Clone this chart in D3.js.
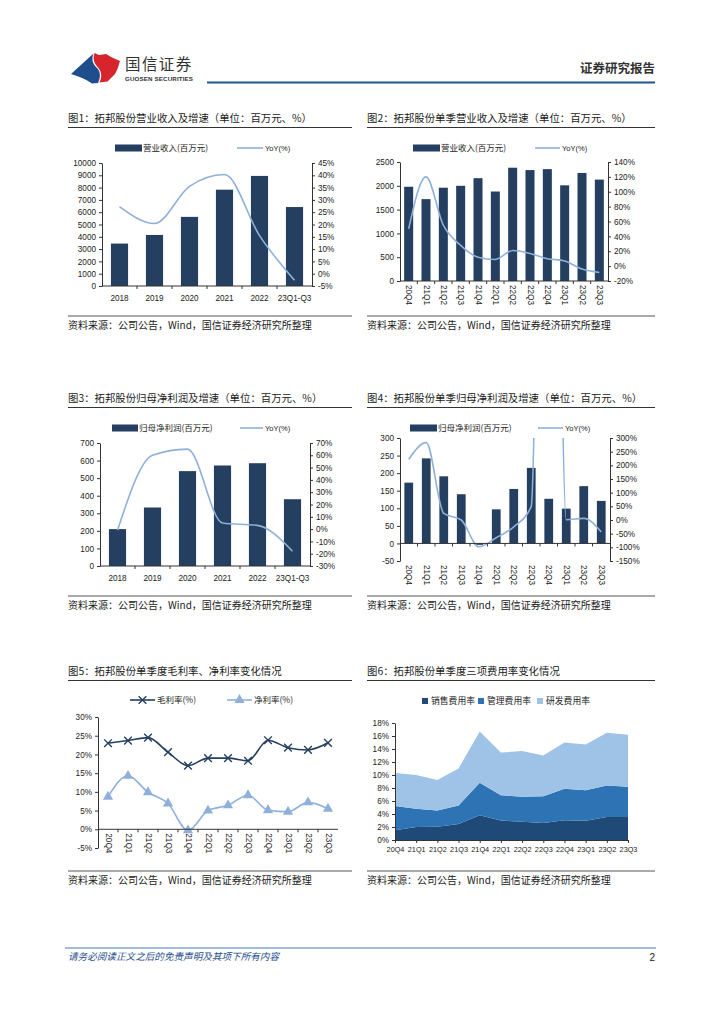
<!DOCTYPE html>
<html><head><meta charset="utf-8">
<script src="https://cdn.jsdelivr.net/npm/d3@7/dist/d3.min.js"></script>
<style>
body{margin:0;background:#fff}
svg{display:block}
text{font-family:"Liberation Sans",Arial,sans-serif;fill:#222}
.cn{font-family:"Noto Sans CJK SC","Noto Sans",sans-serif}
</style>
</head><body>
<svg id="c" width="724" height="1024"></svg>
<script>
// ---------- data ----------
const years = ["2018","2019","2020","2021","2022","23Q1-Q3"];
const quarters = ["20Q4","21Q1","21Q2","21Q3","21Q4","22Q1","22Q2","22Q3","22Q4","23Q1","23Q2","23Q3"];

const revenueAnnual = [3450,4150,5620,7830,8950,6420];
const revenueAnnualYoY = [27.3,20.4,35.5,40.3,15.5,-2.7];

const revenueQuarter = [1980,1720,1960,2000,2160,1880,2380,2330,2350,2010,2270,2130];
const revenueQuarterYoY = [50,120,55,28,12,9,21,17,10,7,-4,-8.5];

const profitAnnual = [210,333,540,572,585,380];
const profitAnnualYoY = [-1,60,65,5,3,-18];

const profitQuarter = [173,242,191,140,-4,97,155,215,127,99,163,121];
const profitQuarterYoY = [222,283,24,0,-98,-65,-25,50,3500,1,6,-44];

const grossMargin = [23.0,23.7,24.5,20.6,17.0,19.0,19.0,18.3,23.8,21.8,21.2,23.1];
const netMargin = [8.7,14.3,9.9,6.9,-0.3,5.0,6.4,9.1,5.1,4.7,7.2,5.5];

const salesRate = [1.5,2.0,2.05,2.45,3.8,3.0,2.8,2.6,3.05,2.95,3.55,3.55];
const adminRate = [3.75,2.8,2.5,2.85,5.0,3.9,3.85,4.15,4.85,4.7,4.85,4.65];
const rdRate = [5.05,5.2,4.7,5.7,7.9,6.55,7.05,6.25,7.1,7.05,8.1,8.0];

const leftTicks1 = [0,1000,2000,3000,4000,5000,6000,7000,8000,9000,10000];
const rightTicks1 = [-5,0,5,10,15,20,25,30,35,40,45];
const leftTicks2 = [0,500,1000,1500,2000,2500];
const rightTicks2 = [-20,0,20,40,60,80,100,120,140];
const leftTicks3 = [0,100,200,300,400,500,600,700];
const rightTicks3 = [-30,-20,-10,0,10,20,30,40,50,60,70];
const leftTicks4 = [-50,0,50,100,150,200,250,300];
const rightTicks4 = [-150,-100,-50,0,50,100,150,200,250,300];
const marginTicks = [-5,0,5,10,15,20,25,30];
const expenseTicks = [0,2,4,6,8,10,12,14,16,18];

// ---------- style ----------
const NAVY = "#243f60";
const LBLUE = "#8eb0da";
const svg = d3.select("#c");

function txt(g, x, y, s, o = {}) {
  const t = g.append("text").attr("x", x).attr("y", y).text(s)
    .attr("font-size", o.size || 8.5);
  if (o.cn) t.attr("class", "cn");
  if (o.anchor) t.attr("text-anchor", o.anchor);
  if (o.fill) t.style("fill", o.fill);
  if (o.weight) t.attr("font-weight", o.weight);
  if (o.italic) t.attr("font-style", "italic");
  return t;
}
function hline(x1, x2, y, color, w) {
  svg.append("line").attr("x1", x1).attr("x2", x2).attr("y1", y).attr("y2", y)
    .attr("stroke", color).attr("stroke-width", w);
}
function styleAxis(a, size) {
  a.attr("font-family", null).attr("font-size", null);
  a.selectAll("text").attr("font-size", size || 8.2).style("fill", "#222");
  a.selectAll("path,line").attr("stroke", "#333");
}

// ---------- header ----------
const logo = svg.append("g");
logo.append("path").attr("d", "M71,74 L93.5,53.5 C91,60 93,64 97,68 C101,72 100.5,78 98,83 L92,83.5 C85,78.5 78,76.5 71,74 Z").attr("fill", "#1f4e8c");
logo.append("path").attr("d", "M94.5,53 L99,55 L106,54 L112,57.5 L120,61 L117.5,69 L115,74 L107.5,81.5 L99.5,82.5 C102,77 102,72 98,67.5 C94,63 92.5,59 94.5,53 Z").attr("fill", "#d7252e");
txt(svg, 125, 70, "国信证券", { cn: true, size: 15.5, fill: "#333" }).attr("letter-spacing", 1.4);
txt(svg, 125, 81, "GUOSEN SECURITIES", { size: 6.2, weight: "bold", fill: "#333" }).attr("textLength", 68);
hline(207, 655, 82.5, "#1f5591", 2);
txt(svg, 655, 73, "证券研究报告", { cn: true, size: 12.5, fill: "#333", anchor: "end", weight: "bold" });

// ---------- footer ----------
hline(65, 656, 948, "#4a78b0", 1);
txt(svg, 68, 960, "请务必阅读正文之后的免责声明及其项下所有内容", { cn: true, size: 9.6, fill: "#1f4e8c", italic: true });
txt(svg, 655, 961, "2", { size: 10, anchor: "end", fill: "#222" });

// ---------- panel frame ----------
function frame(x0, x1, titleY, srcY, title) {
  txt(svg, x0, titleY + 4, title, { cn: true, size: 10.4, fill: "#1a1a1a" });
  hline(x0, x1, titleY + 9.5, "#333", 1.2);
  hline(x0, x1, srcY, "#555", 1);
  txt(svg, x0, srcY + 13, "资料来源：公司公告，Wind，国信证券经济研究所整理", { cn: true, size: 10, fill: "#222" });
}

// ---------- dual-axis bar + line chart ----------
function dual(c) {
  const g = svg.append("g");
  const x = d3.scaleBand().domain(c.cats).range([c.x0, c.x1]).paddingInner(c.pad).paddingOuter(c.pad / 2);
  const yl = d3.scaleLinear().domain(c.ld).range([c.y1, c.y0]);
  const yr = d3.scaleLinear().domain(c.rd).range([c.y1, c.y0]);

  g.selectAll("rect.bar").data(c.bars).join("rect").attr("class", "bar")
    .attr("x", (d, i) => x(c.cats[i])).attr("width", x.bandwidth())
    .attr("y", d => yl(Math.max(0, d)))
    .attr("height", d => Math.abs(yl(d) - yl(0)))
    .attr("fill", NAVY);

  const y0 = yl(0);
  hline(c.x0, c.x1, y0, "#333", 1);
  const bounds = c.cats.map(k => x(k) - x.step() * x.paddingInner() / 2).slice(1);
  g.selectAll("line.xt").data(bounds).join("line").attr("class", "xt")
    .attr("x1", d => d).attr("x2", d => d).attr("y1", y0).attr("y2", y0 + 3)
    .attr("stroke", "#333");

  const clipId = "clip" + c.id;
  svg.append("clipPath").attr("id", clipId).append("rect")
    .attr("x", c.x0 - 5).attr("y", c.y0).attr("width", c.x1 - c.x0 + 10).attr("height", c.y1 - c.y0);
  const line = d3.line().x((d, i) => x(c.cats[i]) + x.bandwidth() / 2).y(d => yr(d)).curve(d3.curveMonotoneX);
  g.append("path").datum(c.line).attr("d", line).attr("fill", "none")
    .attr("stroke", LBLUE).attr("stroke-width", 1.6).attr("clip-path", `url(#${clipId})`);

  const la = g.append("g").attr("transform", `translate(${c.x0},0)`)
    .call(d3.axisLeft(yl).tickValues(c.lt).tickSize(3).tickSizeOuter(0).tickPadding(3).tickFormat(d => String(d)));
  const ra = g.append("g").attr("transform", `translate(${c.x1},0)`)
    .call(d3.axisRight(yr).tickValues(c.rt).tickSize(3).tickSizeOuter(0).tickPadding(3).tickFormat(d => d + "%"));
  styleAxis(la); styleAxis(ra);

  if (c.rotate) {
    g.selectAll("text.xl").data(c.cats).join("text").attr("class", "xl")
      .attr("transform", d => `translate(${x(d) + x.bandwidth() / 2},${c.labelY}) rotate(90)`)
      .attr("dominant-baseline", "central").attr("font-size", 8.2).text(d => d);
  } else {
    g.selectAll("text.xl").data(c.cats).join("text").attr("class", "xl")
      .attr("x", d => x(d) + x.bandwidth() / 2).attr("y", c.labelY)
      .attr("text-anchor", "middle").attr("font-size", 8.2).text(d => d);
  }

  const L = c.leg;
  g.append("rect").attr("x", L.r0).attr("y", L.y - 3.5).attr("width", L.r1 - L.r0).attr("height", 7).attr("fill", NAVY);
  txt(g, L.r1 + 1, L.y + 3, L.barLabel, { cn: true, size: 8.5 });
  g.append("line").attr("x1", L.l0).attr("x2", L.l1).attr("y1", L.y).attr("y2", L.y).attr("stroke", LBLUE).attr("stroke-width", 1.6);
  txt(g, L.l1 + 2, L.y + 3, "YoY(%)", { size: 7.5 });
}

frame(68, 352, 118, 316, "图1：拓邦股份营业收入及增速（单位：百万元、%）");
dual({ id: 1, cats: years, bars: revenueAnnual, line: revenueAnnualYoY, x0: 102, x1: 312, y0: 163, y1: 286,
  ld: [0, 10000], rd: [-5, 45], lt: leftTicks1, rt: rightTicks1, pad: 0.51, labelY: 301, rotate: false,
  leg: { y: 148, r0: 115, r1: 142, l0: 237, l1: 263, barLabel: "营业收入(百万元)" } });

frame(367, 655, 118, 316, "图2：拓邦股份单季营业收入及增速（单位：百万元、%）");
dual({ id: 2, cats: quarters, bars: revenueQuarter, line: revenueQuarterYoY, x0: 400, x1: 608, y0: 162, y1: 281,
  ld: [0, 2500], rd: [-20, 140], lt: leftTicks2, rt: rightTicks2, pad: 0.48, labelY: 285, rotate: true,
  leg: { y: 148, r0: 413, r1: 440, l0: 535, l1: 560, barLabel: "营业收入(百万元)" } });

frame(68, 352, 398, 596, "图3：拓邦股份归母净利润及增速（单位：百万元、%）");
dual({ id: 3, cats: years, bars: profitAnnual, line: profitAnnualYoY, x0: 100, x1: 310, y0: 443, y1: 566,
  ld: [0, 700], rd: [-30, 70], lt: leftTicks3, rt: rightTicks3, pad: 0.51, labelY: 581, rotate: false,
  leg: { y: 428, r0: 112, r1: 138, l0: 240, l1: 263, barLabel: "归母净利润(百万元)" } });

frame(367, 655, 398, 596, "图4：拓邦股份单季归母净利润及增速（单位：百万元、%）");
dual({ id: 4, cats: quarters, bars: profitQuarter, line: profitQuarterYoY, x0: 400, x1: 610, y0: 438, y1: 561,
  ld: [-50, 300], rd: [-150, 300], lt: leftTicks4, rt: rightTicks4, pad: 0.5, labelY: 565, rotate: true,
  leg: { y: 428, r0: 410, r1: 437, l0: 538, l1: 563, barLabel: "归母净利润(百万元)" } });

// ---------- Chart 5: margins ----------
frame(68, 352, 671, 871, "图5：拓邦股份单季度毛利率、净利率变化情况");
(function () {
  const g = svg.append("g");
  const x0 = 98, x1 = 338, y0 = 717, y1 = 848;
  const x = d3.scaleBand().domain(quarters).range([x0, x1]);
  const y = d3.scaleLinear().domain([-5, 30]).range([y1, y0]);
  const cx = d => x(d) + x.bandwidth() / 2;
  const la = g.append("g").attr("transform", `translate(${x0},0)`)
    .call(d3.axisLeft(y).tickValues(marginTicks).tickSize(3).tickSizeOuter(0).tickPadding(3).tickFormat(d => d + "%"));
  styleAxis(la);
  const yz = y(0);
  hline(x0, x1, yz, "#333", 1);
  g.selectAll("line.xt").data(quarters.slice(1)).join("line").attr("class", "xt")
    .attr("x1", d => x(d)).attr("x2", d => x(d)).attr("y1", yz).attr("y2", yz + 3).attr("stroke", "#333");
  g.selectAll("text.xl").data(quarters).join("text").attr("class", "xl")
    .attr("transform", d => `translate(${cx(d)},${yz + 4}) rotate(90)`)
    .attr("dominant-baseline", "central").attr("font-size", 8.2).text(d => d);

  const line = d3.line().x((d, i) => cx(quarters[i])).y(d => y(d)).curve(d3.curveMonotoneX);
  g.append("path").datum(grossMargin).attr("d", line).attr("fill", "none").attr("stroke", NAVY).attr("stroke-width", 1.6);
  g.append("path").datum(netMargin).attr("d", line).attr("fill", "none").attr("stroke", LBLUE).attr("stroke-width", 1.6);
  const cross = d3.symbol().type(d3.symbolX).size(40);
  const tri = d3.symbol().type(d3.symbolTriangle).size(45);
  g.selectAll("path.gm").data(grossMargin).join("path").attr("class", "gm")
    .attr("transform", (d, i) => `translate(${cx(quarters[i])},${y(d)})`)
    .attr("d", cross).attr("stroke", NAVY).attr("stroke-width", 1.4).attr("fill", "none");
  g.selectAll("path.nm").data(netMargin).join("path").attr("class", "nm")
    .attr("transform", (d, i) => `translate(${cx(quarters[i])},${y(d)})`)
    .attr("d", tri).attr("fill", LBLUE);

  const ly = 700;
  g.append("line").attr("x1", 130).attr("x2", 155).attr("y1", ly).attr("y2", ly).attr("stroke", NAVY).attr("stroke-width", 1.6);
  g.append("path").attr("transform", `translate(142.5,${ly})`).attr("d", cross).attr("stroke", NAVY).attr("stroke-width", 1.4).attr("fill", "none");
  txt(g, 157, ly + 3, "毛利率(%)", { cn: true, size: 8.5 });
  g.append("line").attr("x1", 227).attr("x2", 252).attr("y1", ly).attr("y2", ly).attr("stroke", LBLUE).attr("stroke-width", 1.6);
  g.append("path").attr("transform", `translate(239.5,${ly})`).attr("d", tri).attr("fill", LBLUE);
  txt(g, 254, ly + 3, "净利率(%)", { cn: true, size: 8.5 });
})();

// ---------- Chart 6: expense ratios (stacked area) ----------
frame(367, 655, 671, 871, "图6：拓邦股份单季度三项费用率变化情况");
(function () {
  const g = svg.append("g");
  const x0 = 395, x1 = 628, y0 = 723, y1 = 840;
  const x = d3.scalePoint().domain(quarters).range([x0, x1]);
  const y = d3.scaleLinear().domain([0, 18]).range([y1, y0]);
  const rows = quarters.map((q, i) => ({ q, s: salesRate[i], a: adminRate[i], r: rdRate[i] }));
  const stack = d3.stack().keys(["s", "a", "r"])(rows);
  const colors = { s: "#1f4a78", a: "#2e74b5", r: "#9fc3e7" };
  const area = d3.area().x(d => x(d.data.q)).y0(d => y(d[0])).y1(d => y(d[1]));
  g.selectAll("path.ar").data(stack).join("path").attr("class", "ar")
    .attr("d", area).attr("fill", d => colors[d.key]);

  const la = g.append("g").attr("transform", `translate(${x0},0)`)
    .call(d3.axisLeft(y).tickValues(expenseTicks).tickSize(3).tickSizeOuter(0).tickPadding(3).tickFormat(d => d + "%"));
  styleAxis(la);
  const xa = g.append("g").attr("transform", `translate(0,${y1})`)
    .call(d3.axisBottom(x).tickSize(3).tickSizeOuter(0).tickPadding(4));
  styleAxis(xa, 7.3);

  const ly = 701;
  const items = [["s", "销售费用率", 422], ["a", "管理费用率", 478], ["r", "研发费用率", 537]];
  items.forEach(([k, lab, lx]) => {
    g.append("rect").attr("x", lx).attr("y", ly - 3).attr("width", 6).attr("height", 6).attr("fill", colors[k]);
    txt(g, lx + 9, ly + 3.3, lab, { cn: true, size: 8.8 });
  });
})();
</script>
</body></html>
